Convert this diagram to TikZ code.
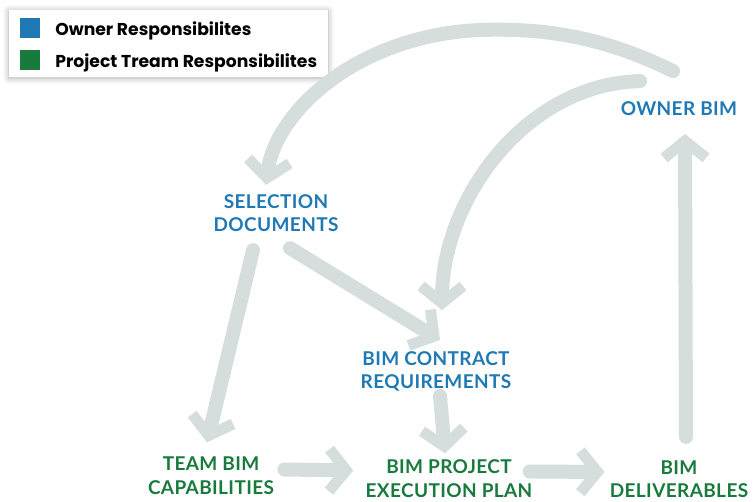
\documentclass[tikz,border=0pt]{standalone}
\usepackage{fontspec}
\setmainfont{Lato}
\newfontfamily\legendfont{Poppins}
\usetikzlibrary{arrows.meta,shadows.blur}

\definecolor{ownerblue}{RGB}{31,121,180}
\definecolor{teamgreen}{RGB}{24,122,60}
\definecolor{flowgray}{RGB}{214,221,221}

\tikzset{every picture/.style={line width=0.75pt}}
\tikzset{
  flow/.style={draw=flowgray, line width=14pt, line cap=round,
    -{Straight Barb[length=17pt,width=42pt,line width=11pt]}},
  ownertxt/.style={text=ownerblue, font=\bfseries\fontsize{19}{23.5}\selectfont\addfontfeatures{LetterSpace=2},
    align=center, inner sep=4pt},
  teamtxt/.style={ownertxt, text=teamgreen},
  legendtxt/.style={font=\legendfont\bfseries\fontsize{17.2}{18}\selectfont, anchor=base west, inner sep=0pt},
  keybox/.style={minimum size=20pt, inner sep=0pt},
}

\begin{document}
\begin{tikzpicture}[x=1pt,y=1pt,yscale=-1,xscale=1]
\useasboundingbox (0,0) rectangle (756,502);

% Legend
\node[fill=white, inner sep=0pt, minimum width=319pt, minimum height=67pt,
  blur shadow={shadow xshift=0pt, shadow yshift=-1pt, shadow blur radius=6pt, shadow opacity=35}]
  (legend) at (168.5,43.5) {};
\node[keybox, fill=ownerblue] (ownerkey) at (29.5,28) {};
\node[keybox, fill=teamgreen] (teamkey) at (29.5,60) {};
\node[legendtxt] (ownerlbl) at (55,35.5) {Owner Responsibilites};
\node[legendtxt] (teamlbl) at (55,67.5) {Project Tream Responsibilites};

% Text Node
\node[ownertxt] (owner) at (679,108.5) {OWNER BIM};
% Text Node
\node[ownertxt] (sel) at (276,213) {SELECTION\\DOCUMENTS};
% Text Node
\node[ownertxt] (contract) at (436,371.5) {BIM CONTRACT\\REQUIREMENTS};
% Text Node
\node[teamtxt] (team) at (211,475.5) {TEAM BIM\\CAPABILITIES};
% Text Node
\node[teamtxt] (plan) at (449,478.5) {BIM PROJECT\\EXECUTION PLAN};
% Text Node
\node[teamtxt] (deliv) at (679,479) {BIM\\DELIVERABLES};

%Curve Lines
\draw[flow] ([shift={(-6,-26)}]owner.north) .. controls (600,35) and (540,28) .. (480,30)
  .. controls (360,35) and (275,110) .. ([shift={(-10,-5)}]sel.north);
\draw[flow] ([shift={(-39,-16)}]owner.north) .. controls (525,84) and (442,200) .. ([shift={(6,-37)}]contract.north);
%Straight Lines
\draw[flow] ([shift={(14,12)}]sel.south) -- ([shift={(4,-7)}]contract.north);
\draw[flow] ([shift={(-23,14)}]sel.south) -- ([shift={(-4,-10)}]team.north);
\draw[flow] ([shift={(4,0)}]contract.south) -- ([shift={(-4,-2)}]plan.north);
\draw[flow] ([shift={(6,-6)}]team.east) -- ([shift={(-8,-8)}]plan.west);
\draw[flow] ([shift={(-7,-7)}]plan.east) -- ([shift={(-1,-7)}]deliv.west);
\draw[flow] ([shift={(7,-19)}]deliv.north) -- ([shift={(6,14)}]owner.south);

\end{tikzpicture}
\end{document}
